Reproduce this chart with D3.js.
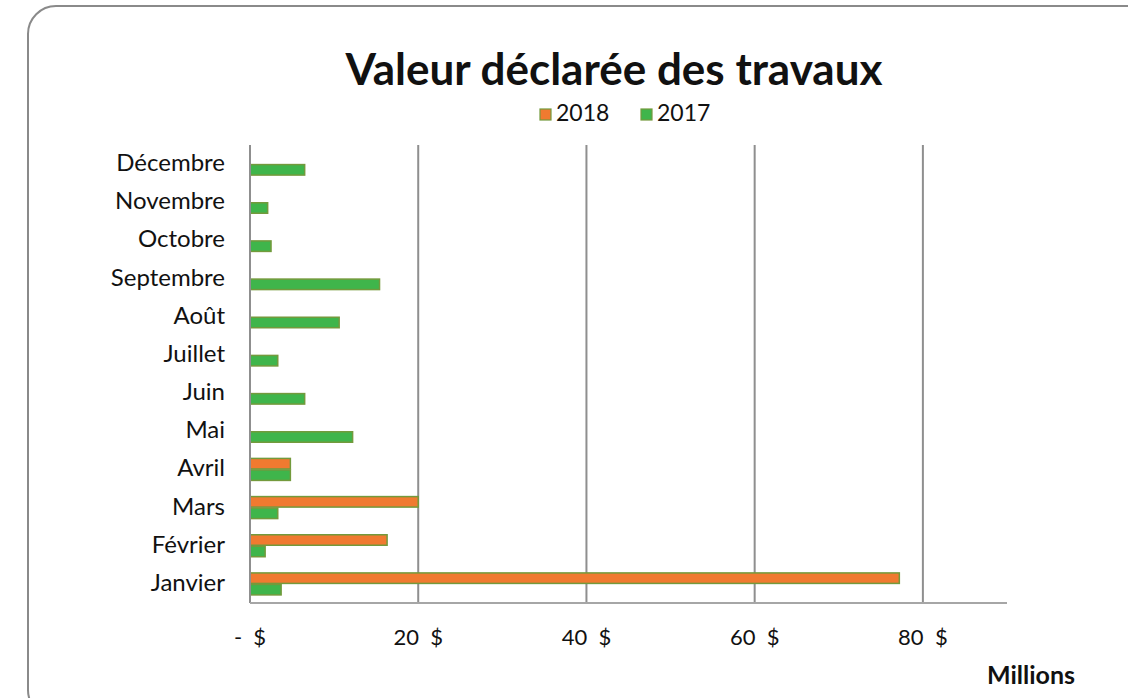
<!DOCTYPE html>
<html lang="fr">
<head>
<meta charset="UTF-8">
<title>Valeur déclarée des travaux</title>
<script src="https://d3js.org/d3.v7.min.js"></script>
<style>
  body { margin: 0; background: #fff; }
  text { font-family: Lato, "Open Sans", sans-serif; fill: #111; }
  .grid line { stroke: #8f8f8f; stroke-width: 2px; }
  .tick-label { white-space: pre; }
</style>
</head>
<body>
<svg id="chart" width="1128" height="698"></svg>
<script>
// mois (du bas vers le haut dans le graphique)
const months = ["Janvier", "Février", "Mars", "Avril", "Mai", "Juin", "Juillet",
                "Août", "Septembre", "Octobre", "Novembre", "Décembre"];
const series = ["2018", "2017"];
// valeurs en millions de $
const values2018 = [77.2, 16.3, 20.0, 4.8, null, null, null, null, null, null, null, null];
const values2017 = [3.7, 1.8, 3.3, 4.8, 12.2, 6.5, 3.3, 10.6, 15.4, 2.5, 2.1, 6.5];
const tickValues = [0, 20, 40, 60, 80];
const tickLabels = ["-  $", "20  $", "40  $", "60  $", "80  $"];
const colors = { "2018": "#f07a30", "2017": "#3fb54b" };

const svg = d3.select("#chart");

// cadre arrondi
svg.append("rect")
    .attr("x", 28).attr("y", 6)
    .attr("width", 1200).attr("height", 712)
    .attr("rx", 28)
    .attr("fill", "none").attr("stroke", "#8a8a8a").attr("stroke-width", 2);

const plotLeft = 250, plotRight = 1007, plotTop = 145, plotBottom = 603;

const x = d3.scaleLinear().domain([0, 90]).range([plotLeft, plotRight]);
const y = d3.scaleBand().domain(months.slice().reverse()).range([plotTop, plotBottom]).paddingInner(0).paddingOuter(0);
const ySub = d3.scaleBand().domain(series).range([0, y.bandwidth()]).paddingInner(0).paddingOuter(0.66);

// grille
svg.append("g").attr("class", "grid")
    .selectAll("line").data(tickValues.slice(1))
    .join("line")
    .attr("x1", d => x(d)).attr("x2", d => x(d))
    .attr("y1", plotTop).attr("y2", plotBottom);

// barres
const rows = months.map((m, i) => ({ month: m, "2018": values2018[i], "2017": values2017[i] }));
const groups = svg.append("g").selectAll("g").data(rows)
    .join("g")
    .attr("transform", d => `translate(0,${y(d.month)})`);

groups.selectAll("rect")
    .data(d => series.filter(s => d[s] != null).map(s => ({ key: s, value: d[s] })))
    .join("rect")
    .attr("x", x(0))
    .attr("y", d => ySub(d.key) + 0.5)
    .attr("width", d => x(d.value) - x(0))
    .attr("height", ySub.bandwidth() - 1)
    .attr("fill", d => colors[d.key])
    .attr("stroke", "#739a3c")
    .attr("stroke-width", 1.5);

// axes
svg.append("line").attr("x1", plotLeft).attr("x2", plotLeft).attr("y1", plotTop).attr("y2", plotBottom)
    .attr("stroke", "#8f8f8f").attr("stroke-width", 2);
svg.append("line").attr("x1", plotLeft).attr("x2", plotRight).attr("y1", plotBottom).attr("y2", plotBottom)
    .attr("stroke", "#a6a6a6").attr("stroke-width", 2);

// étiquettes des mois
svg.append("g").selectAll("text").data(months)
    .join("text")
    .attr("x", 225)
    .attr("y", d => y(d) + y.bandwidth() / 2 + 7)
    .attr("text-anchor", "end")
    .attr("font-size", 24)
    .text(d => d);

// étiquettes de l'axe x
svg.append("g").selectAll("text").data(tickValues)
    .join("text")
    .attr("class", "tick-label")
    .attr("x", d => x(d))
    .attr("y", 645)
    .attr("text-anchor", "middle")
    .attr("font-size", 22)
    .text((d, i) => tickLabels[i]);

svg.append("text")
    .attr("x", 1075).attr("y", 684)
    .attr("text-anchor", "end")
    .attr("font-size", 25).attr("font-weight", "bold")
    .text("Millions");

// titre
svg.append("text")
    .attr("x", 614).attr("y", 85)
    .attr("text-anchor", "middle")
    .attr("font-size", 44).attr("font-weight", "bold")
    .text("Valeur déclarée des travaux");

// légende
const legend = svg.append("g").selectAll("g").data(series)
    .join("g")
    .attr("transform", (d, i) => `translate(${540 + i * 101},109)`);
legend.append("rect")
    .attr("width", 11).attr("height", 11)
    .attr("fill", d => colors[d])
    .attr("stroke", "#739a3c").attr("stroke-width", 1.2);
legend.append("text")
    .attr("x", 16).attr("y", 12)
    .attr("font-size", 23)
    .text(d => d);
</script>
</body>
</html>
